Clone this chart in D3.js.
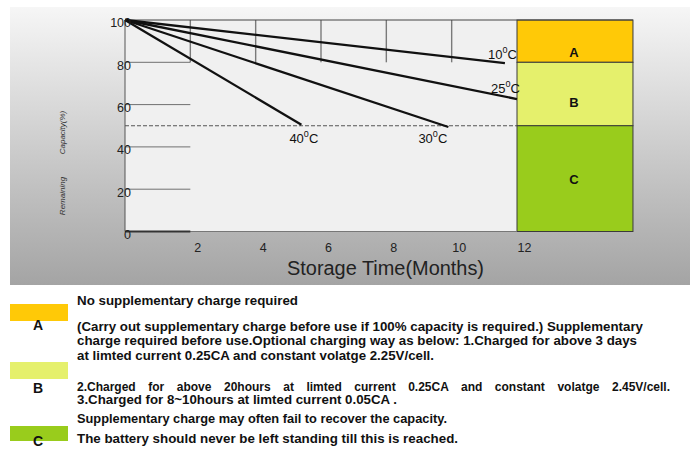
<!DOCTYPE html>
<html>
<head>
<meta charset="utf-8">
<script src="https://cdn.jsdelivr.net/npm/d3@7"></script>
<style>
body { margin: 0; background: #fff; }
text { font-family: "Liberation Sans", Arial, sans-serif; }
</style>
</head>
<body>
<script>
// data
var months = [2, 4, 6, 8, 10, 12],
    capTicks = [0, 20, 40, 60, 80, 100],
    gridCaps = [20, 40, 60, 80],
    gridMonths = [2, 4, 6, 8, 10],
    temps = ["10", "25", "30", "40"],
    endMonth = [11.63, 12, 9.9, 5.4],
    endCap = [79.6, 62.6, 49.4, 50.5],
    limitCap = 50,
    zoneNames = ["A", "B", "C"],
    zoneTop = [100, 80, 50],
    zoneBottom = [80, 50, 0],
    zoneColors = ["#ffc907", "#e5f06c", "#99cc1c"],
    legendLines = [
      "No supplementary charge required",
      "(Carry out supplementary charge before use if 100% capacity is required.) Supplementary",
      "charge required before use.Optional charging way as below: 1.Charged for above 3 days",
      "at limted current 0.25CA and constant volatge 2.25V/cell.",
      "2.Charged for above 20hours at limted current 0.25CA and constant volatge 2.45V/cell.",
      "3.Charged for 8~10hours at limted current 0.05CA .",
      "Supplementary charge may often fail to recover the capacity.",
      "The battery should never be left standing till this is reached."
    ];

// layout
var width = 697, height = 449;
var lineY = [305, 331, 345, 360, 390.5, 404, 423, 443],
    lineW = [221, 566, 560, 357, 593, 320, 370, 381],
    lineSize = [13, 13, 13, 13, 12, 12, 13, 13],
    labelDx = [-17, -26, -30, -12],
    labelDy = [-4, -6.5, 15.7, 18],
    zoneLabelShift = [11, 8, 0.5],
    legRectY = [304, 362, 426],
    legRectH = [17, 17, 15],
    legLabelY = [330, 393, 446];

var svg = d3.select("body").append("svg")
    .attr("width", width)
    .attr("height", height);

var grad = svg.append("defs").append("linearGradient")
    .attr("id", "panel")
    .attr("x1", 0).attr("y1", 0).attr("x2", 0).attr("y2", 1);
grad.append("stop").attr("offset", 0).attr("stop-color", "#f6f6f6");
grad.append("stop").attr("offset", 1).attr("stop-color", "#a4a4a4");

// grey panel behind the chart
svg.append("rect")
    .attr("x", 10).attr("y", 7)
    .attr("width", 680).attr("height", 278)
    .attr("fill", "url(#panel)");

var x = d3.scaleLinear().domain([0, 12]).range([125, 517]);
var y = d3.scaleLinear().domain([0, 100]).range([231.5, 20]);

// plot area
svg.append("rect")
    .attr("x", x(0)).attr("y", y(100))
    .attr("width", x(12) - x(0)).attr("height", y(0) - y(100))
    .attr("fill", "#f0f0f0");

// zones A B C
svg.selectAll("rect.zone")
    .data(zoneNames)
    .enter().append("rect")
    .attr("class", "zone")
    .attr("x", x(12))
    .attr("y", function(d, i){ return y(zoneTop[i]); })
    .attr("width", x(15.55) - x(12))
    .attr("height", function(d, i){ return y(zoneBottom[i]) - y(zoneTop[i]); })
    .attr("fill", function(d, i){ return zoneColors[i]; })
    .attr("stroke", "#3a3a3a")
    .attr("stroke-width", 1);

svg.selectAll("text.zone")
    .data(zoneNames)
    .enter().append("text")
    .attr("class", "zone")
    .attr("x", (x(12) + x(15.55)) / 2 - 1)
    .attr("y", function(d, i){ return (y(zoneTop[i]) + y(zoneBottom[i])) / 2 + zoneLabelShift[i]; })
    .attr("dy", "0.36em")
    .attr("text-anchor", "middle")
    .style("font-size", "13px")
    .style("font-weight", "bold")
    .attr("fill", "#111")
    .text(function(d){ return d; });

// partial grid
svg.selectAll("line.vgrid")
    .data(gridMonths)
    .enter().append("line")
    .attr("x1", function(d){ return x(d); })
    .attr("x2", function(d){ return x(d); })
    .attr("y1", y(100)).attr("y2", y(80))
    .attr("stroke", "#7a7a7a")
    .attr("stroke-width", 1.4);

svg.selectAll("line.hgrid")
    .data(gridCaps)
    .enter().append("line")
    .attr("x1", x(0)).attr("x2", x(2))
    .attr("y1", function(d){ return y(d); })
    .attr("y2", function(d){ return y(d); })
    .attr("stroke", "#707070")
    .attr("stroke-width", 1);

// frame lines
svg.append("line")
    .attr("x1", x(0)).attr("x2", x(15.55))
    .attr("y1", y(100)).attr("y2", y(100))
    .attr("stroke", "#444");
svg.append("line")
    .attr("x1", x(0)).attr("x2", x(0))
    .attr("y1", y(100)).attr("y2", y(0))
    .attr("stroke", "#555");
svg.append("line")
    .attr("x1", x(0)).attr("x2", x(12))
    .attr("y1", y(0)).attr("y2", y(0))
    .attr("stroke", "#777");
svg.append("line")
    .attr("x1", x(0)).attr("x2", x(2))
    .attr("y1", y(0)).attr("y2", y(0))
    .attr("stroke", "#333")
    .attr("stroke-width", 2);

// 50% limit
svg.append("line")
    .attr("x1", x(0)).attr("x2", x(12))
    .attr("y1", y(limitCap)).attr("y2", y(limitCap))
    .attr("stroke", "#555")
    .attr("stroke-width", 1)
    .attr("stroke-dasharray", "4,2");

// capacity lines
var line = d3.line()
    .x(function(d){ return x(d[0]); })
    .y(function(d){ return y(d[1]); });

temps.forEach(function(t, i){
  svg.append("path")
      .attr("d", line([[0, 100], [endMonth[i], endCap[i]]]))
      .attr("fill", "none")
      .attr("stroke", "#111")
      .attr("stroke-width", 2.3);

  var lab = svg.append("text")
      .attr("x", x(endMonth[i]) + labelDx[i])
      .attr("y", y(endCap[i]) + labelDy[i])
      .attr("fill", "#111")
      .style("font-size", "13px");
  lab.append("tspan").text(t);
  lab.append("tspan").attr("dy", -6).style("font-size", "9px").text("0");
  lab.append("tspan").attr("dy", 6).text("C");
});

// axes
var yAxis = svg.append("g")
    .attr("transform", "translate(" + x(0) + ",0)")
    .call(d3.axisLeft(y).tickValues(capTicks).tickSize(0).tickPadding(-6));
yAxis.select(".domain").remove();
yAxis.selectAll("text")
    .attr("dy", "0.55em")
    .attr("fill", "#222")
    .style("font-size", "12.5px")
    .style("font-family", "'Liberation Sans', Arial, sans-serif");

var xAxis = svg.append("g")
    .attr("transform", "translate(0," + y(0) + ")")
    .call(d3.axisBottom(x).tickValues(months).tickSize(0).tickPadding(12));
xAxis.select(".domain").remove();
xAxis.selectAll("text")
    .attr("dx", 7)
    .attr("fill", "#222")
    .style("font-size", "12.5px")
    .style("font-family", "'Liberation Sans', Arial, sans-serif");

svg.append("text")
    .attr("x", 287).attr("y", 275)
    .attr("textLength", 197)
    .attr("lengthAdjust", "spacingAndGlyphs")
    .attr("fill", "#222")
    .style("font-size", "20px")
    .text("Storage Time(Months)");

svg.append("text")
    .attr("transform", "translate(65,132.5) rotate(-90)")
    .attr("text-anchor", "middle")
    .attr("fill", "#333")
    .style("font-size", "8px")
    .style("font-style", "italic")
    .text("Capacity(%)");
svg.append("text")
    .attr("transform", "translate(65,196) rotate(-90)")
    .attr("text-anchor", "middle")
    .attr("fill", "#333")
    .style("font-size", "8px")
    .style("font-style", "italic")
    .text("Remaining");

// legend below
svg.selectAll("rect.leg")
    .data(zoneNames)
    .enter().append("rect")
    .attr("class", "leg")
    .attr("x", 10)
    .attr("y", function(d, i){ return legRectY[i]; })
    .attr("width", 58)
    .attr("height", function(d, i){ return legRectH[i]; })
    .attr("fill", function(d, i){ return zoneColors[i]; });

svg.selectAll("text.leg")
    .data(zoneNames)
    .enter().append("text")
    .attr("class", "leg")
    .attr("x", 38)
    .attr("y", function(d, i){ return legLabelY[i]; })
    .attr("text-anchor", "middle")
    .attr("fill", "#111")
    .style("font-size", "14px")
    .style("font-weight", "bold")
    .text(function(d){ return d; });

svg.selectAll("text.note")
    .data(legendLines)
    .enter().append("text")
    .attr("class", "note")
    .attr("x", 77)
    .attr("y", function(d, i){ return lineY[i]; })
    .attr("fill", "#111")
    .style("font-size", function(d, i){ return lineSize[i] + "px"; })
    .style("font-weight", "bold")
    .text(function(d){ return d; })
    .each(function(d, i){
      var t = d3.select(this);
      if (i === 4) {
        // justified line: spread the words
        var natural = this.getComputedTextLength();
        var gaps = (d.match(/ /g) || []).length;
        t.style("word-spacing", Math.max(0, (lineW[i] - natural) / gaps) + "px");
      } else {
        t.attr("textLength", lineW[i]).attr("lengthAdjust", "spacingAndGlyphs");
      }
    });
</script>
</body>
</html>
